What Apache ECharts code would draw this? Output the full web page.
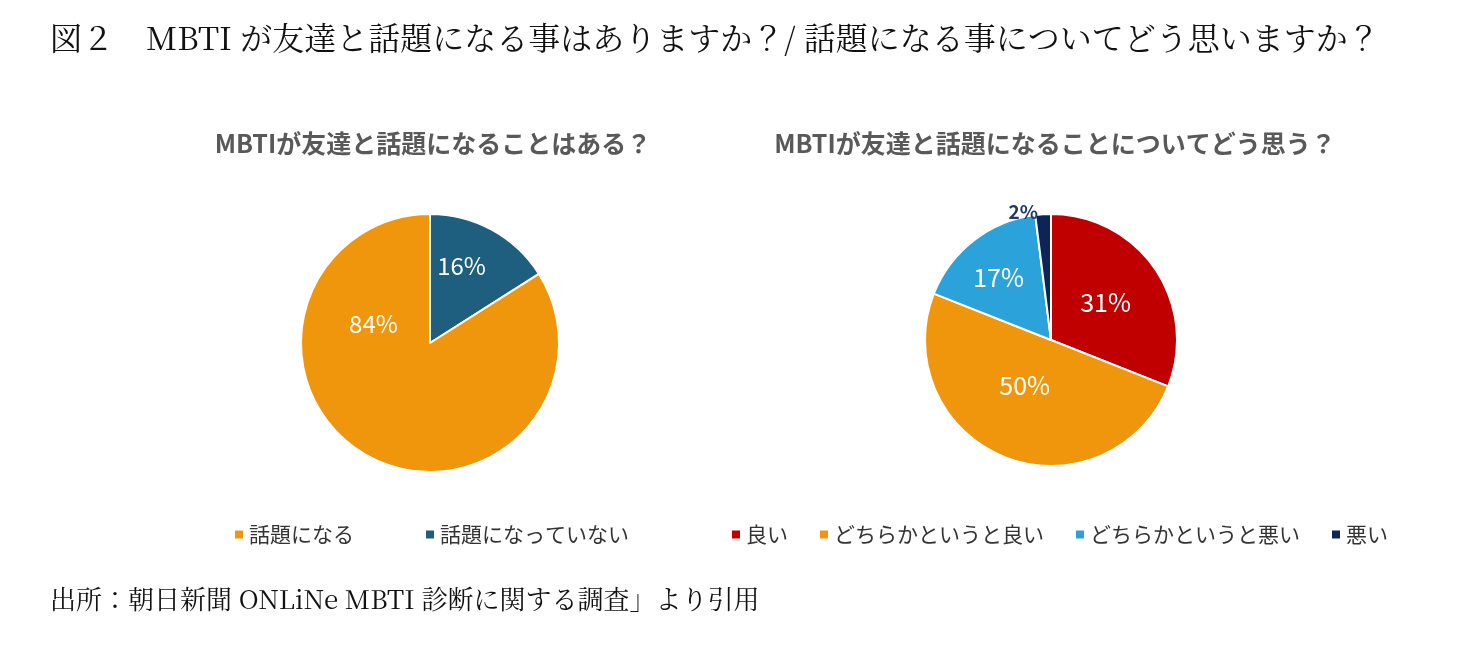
<!doctype html>
<html>
<head>
<meta charset="utf-8">
<style>html,body{margin:0;width:100%;height:100%;background:#fff}#c{width:1467px;height:652px}</style>
</head>
<body>
<div id="c"></div>
<script src="https://cdn.jsdelivr.net/npm/echarts@6/dist/echarts.min.js"></script>
<script>
var leftNames = ['話題になっていない', '話題になる'];
var leftValues = [16, 84];
var leftColors = ['#1e5f80', '#f0960c'];
var rightNames = ['良い', 'どちらかというと良い', 'どちらかというと悪い', '悪い'];
var rightValues = [31, 50, 17, 2];
var rightColors = ['#c00000', '#f0960c', '#2ba3da', '#0c2458'];

var chart = echarts.init(document.getElementById('c'));
var sans = '"Noto Sans CJK JP", sans-serif';
var serif = '"Noto Serif CJK JP", "DejaVu Serif", serif';
function pieData(names, vals) {
    return names.map(function (n, i) { return {name: n, value: vals[i]}; });
}
var option = {
    animation: false,
    title: [
        {text: 'MBTIが友達と話題になることはある？', left: 428, top: 126, textAlign: 'center',
            textStyle: {fontFamily: sans, fontSize: 25, fontWeight: 'bold', color: '#595959'}},
        {text: 'MBTIが友達と話題になることについてどう思う？', left: 1050, top: 126, textAlign: 'center',
            textStyle: {fontFamily: sans, fontSize: 25, fontWeight: 'bold', color: '#595959'}}
    ],
    legend: [
        {data: ['話題になる', '話題になっていない'], left: 228, top: 519, itemWidth: 10, itemHeight: 10,
            itemGap: 70, icon: 'rect', textStyle: {fontFamily: sans, fontSize: 21, color: '#333'}},
        {data: rightNames, left: 725, top: 519, itemWidth: 10, itemHeight: 10,
            itemGap: 30, icon: 'rect', textStyle: {fontFamily: sans, fontSize: 21, color: '#333'}}
    ],
    graphic: [
        {type: 'text', left: 50, top: 22, style: {text: '図２　MBTI が友達と話題になる事はありますか？/ 話題になる事についてどう思いますか？',
            font: '32px ' + serif, fill: '#111'}},
        {type: 'text', left: 50, top: 586, style: {text: '出所：朝日新聞 ONLiNe MBTI 診断に関する調査」より引用',
            font: '26px ' + serif, fill: '#111'}}
    ],
    series: [
        {type: 'pie', center: [430, 343], radius: 129, startAngle: 90, clockwise: true,
            color: leftColors, data: pieData(leftNames, leftValues),
            itemStyle: {borderColor: '#fff', borderWidth: 2},
            label: {position: 'inside', formatter: '{c}%', color: '#fff', fontSize: 24, fontFamily: sans},
            emphasis: {disabled: true}},
        {type: 'pie', center: [1051, 340], radius: 126, startAngle: 90, clockwise: true,
            color: rightColors, data: pieData(rightNames, rightValues),
            itemStyle: {borderColor: '#fff', borderWidth: 2},
            label: {position: 'inside', formatter: '{c}%', color: '#fff', fontSize: 25, fontFamily: sans},
            emphasis: {disabled: true}}
    ]
};
option.series[0].data[1].label = {offset: [-24, -78]};
option.series[0].data[0].label = {offset: [-1, -18]};
option.series[1].data[2].label = {offset: [-12, -10]};
option.series[1].data[1].label = {offset: [-2, -16]};
// small slice label outside, dark
option.series[1].data[3].label = {position: 'outside', color: '#1f3864', fontSize: 19, fontWeight: 'bold', distance: 8};
option.series[1].data[3].labelLine = {show: false, length: 2, length2: 0};
chart.setOption(option);
</script>
</body>
</html>
